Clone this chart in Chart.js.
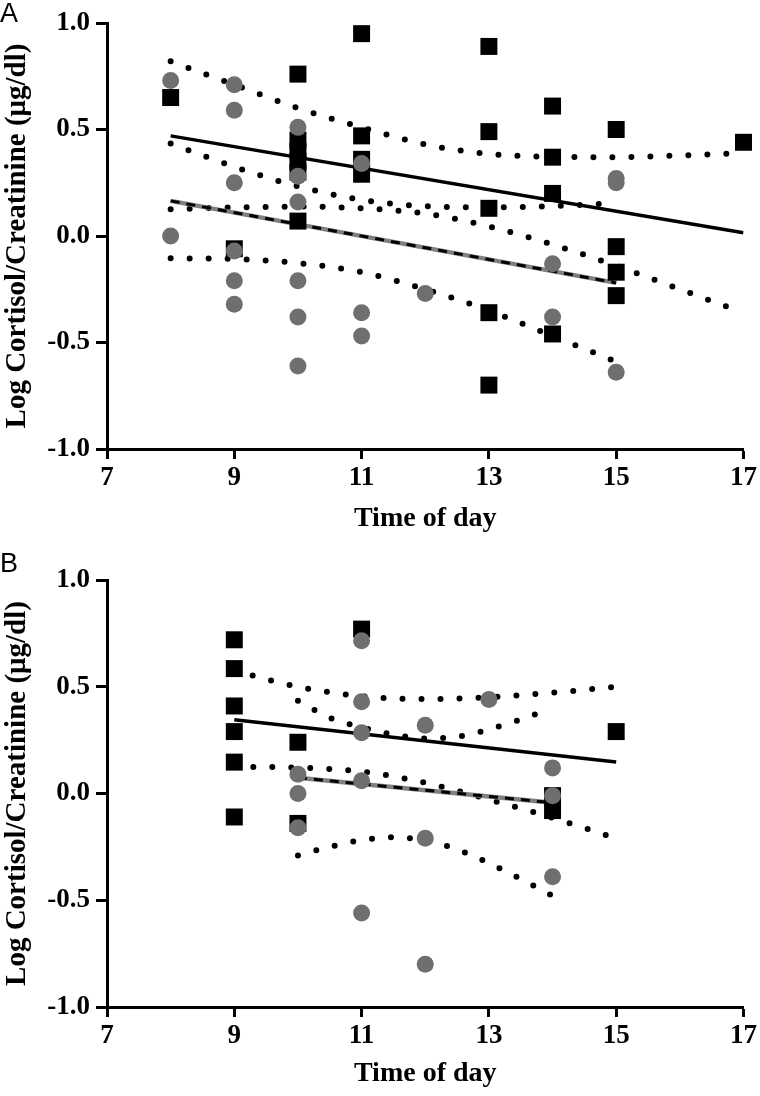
<!DOCTYPE html>
<html>
<head>
<meta charset="utf-8">
<script src="https://cdn.jsdelivr.net/npm/chart.js@4.4.0/dist/chart.umd.min.js"></script>
<style>
  html, body { margin: 0; padding: 0; background: #fff; }
  body { width: 760px; height: 1096px; position: relative; overflow: hidden; }
  .panel { position: absolute; left: 0; width: 760px; }
  #panelA { top: 0; height: 545px; }
  #panelB { top: 545px; height: 551px; }
  .letter { position: absolute; left: 0px; font: 27px "Liberation Sans", Arial, sans-serif; color: #000; line-height: 1; }
</style>
</head>
<body>
<div class="panel" id="panelA"><canvas id="chartA"></canvas></div>
<div class="panel" id="panelB"><canvas id="chartB"></canvas></div>
<div class="letter" style="top:0px">A</div>
<div class="letter" style="top:550px">B</div>

<script>
// Panel A - black squares
const aSquareTime = [8, 9, 10, 10, 10, 10, 10, 10, 11, 11, 11, 11, 13, 13, 13, 13, 13, 14, 14, 14, 14, 15, 15, 15, 15, 17];
const aSquareLog = [0.65, -0.06, 0.76, 0.45, 0.40, 0.35, 0.30, 0.07, 0.95, 0.47, 0.36, 0.29, 0.89, 0.49, 0.13, -0.36, -0.70, 0.61, 0.37, 0.20, -0.46, 0.50, -0.05, -0.17, -0.28, 0.44];
// Panel A - grey circles
const aCircleTime = [8, 8, 9, 9, 9, 9, 9, 9, 10, 10, 10, 10, 10, 10, 11, 11, 11, 12, 14, 14, 15, 15, 15];
const aCircleLog = [0.73, 0.00, 0.71, 0.59, 0.25, -0.07, -0.21, -0.32, 0.51, 0.28, 0.16, -0.21, -0.38, -0.61, 0.34, -0.36, -0.47, -0.27, -0.13, -0.38, 0.27, 0.25, -0.64];

// Panel A - fits and confidence bands
const aBlackFitTime = [8, 17];
const aBlackFitLog = [0.47, 0.015];
const aGreyFitTime = [8, 15];
const aGreyFitLog = [0.165, -0.22];
const aBlackBandTime = [8, 9, 10, 11, 12, 13, 14, 15, 16, 17];
const aBlackBandUpper = [0.82, 0.71, 0.60, 0.51, 0.43, 0.385, 0.372, 0.37, 0.378, 0.39];
const aBlackBandLower = [0.126, 0.134, 0.138, 0.13, 0.105, 0.045, -0.04, -0.14, -0.25, -0.36];
const aGreyBandTime = [8, 9, 10, 11, 12, 13, 14, 15];
const aGreyBandUpper = [0.434, 0.325, 0.233, 0.17, 0.14, 0.135, 0.14, 0.155];
const aGreyBandLower = [-0.105, -0.108, -0.127, -0.17, -0.25, -0.35, -0.47, -0.59];

// Panel B - black squares
const bSquareTime = [9, 9, 9, 9, 9, 9, 10, 10, 11, 14, 14, 15];
const bSquareLog = [0.72, 0.585, 0.41, 0.29, 0.147, -0.11, 0.24, -0.14, 0.77, -0.01, -0.08, 0.29];
// Panel B - grey circles
const bCircleTime = [10, 10, 10, 11, 11, 11, 11, 11, 12, 12, 12, 13, 14, 14, 14];
const bCircleLog = [0.09, 0.00, -0.16, 0.715, 0.43, 0.285, 0.06, -0.56, 0.32, -0.21, -0.80, 0.44, 0.12, -0.01, -0.39];

// Panel B - fits and confidence bands
const bBlackFitTime = [9, 15];
const bBlackFitLog = [0.345, 0.148];
const bGreyFitTime = [10, 14];
const bGreyFitLog = [0.074, -0.043];
const bBlackBandTime = [9, 10, 11, 12, 13, 14, 15];
const bBlackBandUpper = [0.575, 0.50, 0.456, 0.442, 0.451, 0.472, 0.50];
const bBlackBandLower = [0.125, 0.121, 0.103, 0.05, -0.028, -0.114, -0.21];
const bGreyBandTime = [10, 10.5, 11, 11.5, 12, 12.5, 13, 13.5, 14];
const bGreyBandUpper = [0.435, 0.355, 0.31, 0.276, 0.258, 0.266, 0.30, 0.347, 0.40];
const bGreyBandLower = [-0.29, -0.25, -0.218, -0.205, -0.22, -0.262, -0.326, -0.40, -0.48];

const xTicks = [7, 9, 11, 13, 15, 17];
const yTicks = [-1.0, -0.5, 0.0, 0.5, 1.0];

const GREY = '#6f6f6f';
const SERIF = '"Liberation Serif", "Times New Roman", serif';

function pts(xs, ys) {
  return xs.map((x, i) => ({ x: x, y: ys[i] }));
}

function lineSet(data, color, width, dash, smooth) {
  return {
    data: data,
    showLine: true,
    pointRadius: 0,
    borderColor: color,
    borderWidth: width,
    borderDash: dash || [],
    borderCapStyle: dash && dash[0] === 0 ? 'round' : 'butt',
    cubicInterpolationMode: smooth ? 'monotone' : 'default',
    fill: false
  };
}

function makePanel(id, p) {
  const datasets = [
    // first dataset is drawn on top
    { data: pts(p.circleTime, p.circleLog), pointStyle: 'circle', pointRadius: 8.5, backgroundColor: GREY, borderWidth: 0, clip: false },
    { data: pts(p.squareTime, p.squareLog), pointStyle: 'rect', pointRadius: 12, backgroundColor: '#000', borderWidth: 0, clip: false },
    lineSet(pts(p.blackFitTime, p.blackFitLog), '#000', 3.5),
    lineSet(pts(p.greyFitTime, p.greyFitLog), '#000', 3, [9, 7]),
    lineSet(pts(p.greyFitTime, p.greyFitLog), '#808080', 4.5),
    lineSet(pts(p.blackBandTime, p.blackBandUpper), '#000', 6, [0, 19], true),
    lineSet(pts(p.blackBandTime, p.blackBandLower), '#000', 6, [0, 19], true),
    lineSet(pts(p.greyBandTime, p.greyBandUpper), '#000', 6, [0, 19], true),
    lineSet(pts(p.greyBandTime, p.greyBandLower), '#000', 6, [0, 19], true)
  ];

  new Chart(document.getElementById(id), {
    type: 'scatter',
    data: { datasets: datasets },
    options: {
      responsive: true,
      maintainAspectRatio: false,
      animation: false,
      events: [],
      layout: { padding: { top: p.top, right: 14, bottom: 0, left: 0 } },
      plugins: { legend: { display: false }, tooltip: { enabled: false } },
      scales: {
        x: {
          type: 'linear',
          min: 7,
          max: 17,
          afterBuildTicks: (scale) => { scale.ticks = xTicks.map(v => ({ value: v })); },
          afterFit: (scale) => { scale.height = p.bottomH; },
          ticks: {
            color: '#000',
            padding: 3,
            maxRotation: 0,
            font: { family: SERIF, size: 27, weight: 'bold' }
          },
          grid: { drawOnChartArea: false, drawTicks: true, tickLength: 10, tickWidth: 3, tickColor: '#000' },
          border: { display: true, color: '#000', width: 3 },
          title: {
            display: true,
            text: 'Time of day',
            color: '#000',
            padding: { top: 0, bottom: p.titlePad },
            font: { family: SERIF, size: 28, weight: 'bold' }
          }
        },
        y: {
          min: -1,
          max: 1,
          afterBuildTicks: (scale) => { scale.ticks = yTicks.map(v => ({ value: v })); },
          afterFit: (scale) => { scale.width = 107; },
          ticks: {
            color: '#000',
            padding: 6,
            callback: (v) => v.toFixed(1),
            font: { family: SERIF, size: 27, weight: 'bold' }
          },
          grid: { drawOnChartArea: false, drawTicks: true, tickLength: 11, tickWidth: 3, tickColor: '#000' },
          border: { display: true, color: '#000', width: 3 },
          title: {
            display: true,
            text: 'Log Cortisol/Creatinine (\u03bcg/dl)',
            color: '#000',
            padding: { top: 0, bottom: 0 },
            font: { family: SERIF, size: 29, weight: 'bold' }
          }
        }
      }
    }
  });
}

makePanel('chartA', {
  squareTime: aSquareTime, squareLog: aSquareLog,
  circleTime: aCircleTime, circleLog: aCircleLog,
  blackFitTime: aBlackFitTime, blackFitLog: aBlackFitLog,
  greyFitTime: aGreyFitTime, greyFitLog: aGreyFitLog,
  blackBandTime: aBlackBandTime, blackBandUpper: aBlackBandUpper, blackBandLower: aBlackBandLower,
  greyBandTime: aGreyBandTime, greyBandUpper: aGreyBandUpper, greyBandLower: aGreyBandLower,
  top: 23, bottomH: 96, titlePad: 9
});

makePanel('chartB', {
  squareTime: bSquareTime, squareLog: bSquareLog,
  circleTime: bCircleTime, circleLog: bCircleLog,
  blackFitTime: bBlackFitTime, blackFitLog: bBlackFitLog,
  greyFitTime: bGreyFitTime, greyFitLog: bGreyFitLog,
  blackBandTime: bBlackBandTime, blackBandUpper: bBlackBandUpper, blackBandLower: bBlackBandLower,
  greyBandTime: bGreyBandTime, greyBandUpper: bGreyBandUpper, greyBandLower: bGreyBandLower,
  top: 35, bottomH: 89, titlePad: 5
});
</script>
</body>
</html>
